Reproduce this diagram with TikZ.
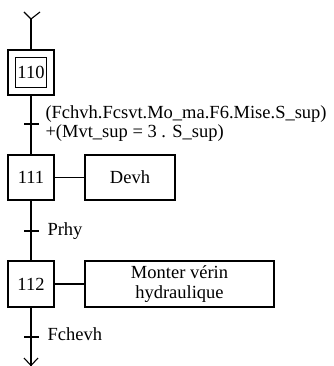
\documentclass[tikz,border=0pt]{standalone}
\usepackage{fontspec}
\setmainfont{Liberation Serif}
\begin{document}
\begin{tikzpicture}[x=1pt,y=-1pt,line width=1.1pt,
  txt/.style={font=\fontsize{18.5}{19.5}\selectfont},
  stepbox/.style={draw,minimum width=46pt,minimum height=45pt,inner sep=0pt,txt},
  actbox/.style={draw,minimum height=45pt,inner sep=0pt,align=center,txt},
  tlabel/.style={anchor=base west,inner sep=0pt,align=left,txt},
  link/.style={line width=1.1pt}]
\useasboundingbox (0,0) rectangle (333,366);
% top
\coordinate (top) at (31,19);
\coordinate (tl) at (24,12);
\coordinate (tr) at (40,12);
\draw[link] (tl) -- (top) -- (tr);
% step 110 (initial)
\node[stepbox] (s110) at (31,72.5) {};
\node[draw,minimum width=31pt,minimum height=30pt,inner sep=0pt,txt] (s110i) at (31,72.5) {110};
% step 111
\node[stepbox] (s111) at (31,177.5) {111};
\node[actbox,minimum width=90pt] (a111) at (130,177.5) {Devh};
% step 112
\node[stepbox,minimum height=46pt] (s112) at (31,284) {112};
\node[actbox,minimum width=189pt,minimum height=46pt] (a112) at (179.5,284) {Monter vérin\\hydraulique};
% bottom
\coordinate (bot) at (31,365.5);
\coordinate (bl) at (24,358);
\coordinate (br) at (38,358);
% links
\draw[link] (top) -- (s110.north);
\draw[link] (s110.south) -- (s111.north);
\draw[link] (s111.south) -- (s112.north);
\draw[link] (s112.south) -- (bot);
\draw[link] (bl) -- (bot) -- (br);
\draw[link] (s111.east) -- (a111.west);
\draw[link] (s112.east) -- (a112.west);
% transitions
\coordinate (t1) at (31.5,124);
\coordinate (t2) at (31.5,231);
\coordinate (t3) at (31.5,337);
\foreach \t in {t1,t2,t3} {\draw[link] ([xshift=-7.5pt]\t) -- ([xshift=7.5pt]\t);}
\node[tlabel] (l1) at (45,138) {(Fchvh.Fcsvt.Mo\_ma.F6.Mise.S\_sup)\\+(Mvt\_sup = 3 . S\_sup)};
\node[tlabel] (l2) at (47,235.5) {Prhy};
\node[tlabel] (l3) at (47,340.5) {Fchevh};
\end{tikzpicture}
\end{document}
